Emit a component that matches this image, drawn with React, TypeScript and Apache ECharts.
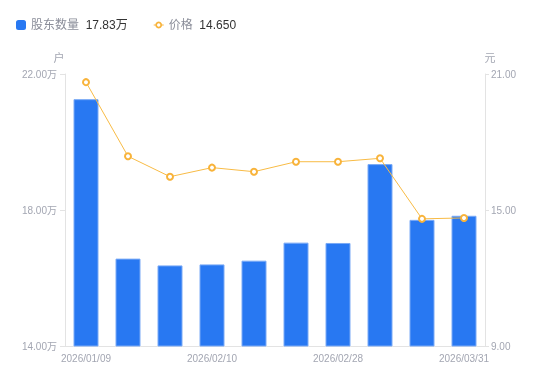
import React, { useEffect, useRef } from "react";
import * as echarts from "echarts";

const categories = [
  "2026/01/09",
  "2026/01/20",
  "2026/01/31",
  "2026/02/10",
  "2026/02/15",
  "2026/02/20",
  "2026/02/28",
  "2026/03/10",
  "2026/03/20",
  "2026/03/31",
];
const holders = [21.26, 16.57, 16.37, 16.4, 16.51, 17.04, 17.03, 19.35, 17.71, 17.83];
const prices = [20.64, 17.37, 16.47, 16.87, 16.69, 17.13, 17.13, 17.28, 14.61, 14.65];
const leftTicks = { min: 14, max: 22, interval: 4 };
const rightTicks = { min: 9, max: 21, interval: 6 };

const FONT = 'Arial, "Liberation Sans", "Noto Sans CJK SC", sans-serif';
const AXIS_COLOR = "#e3e3e3";
const LABEL_COLOR = "#a3a6b2";
const LINE_ICON =
  "path://M0,4.4 H2.4 V5.6 H0 Z M7.6,4.4 H10 V5.6 H7.6 Z M5,1.6 A3.4,3.4 0 1,1 4.99,1.6 Z M5,3.3 A1.7,1.7 0 1,0 5.01,3.3 Z";

export default function App() {
  const ref = useRef<HTMLDivElement>(null);
  useEffect(() => {
    if (!ref.current) return;
    const chart = echarts.init(ref.current, null, { renderer: "svg" });
    const lastHolder = holders[holders.length - 1];
    const lastPrice = prices[prices.length - 1];
    chart.setOption({
      animation: false,
      textStyle: { fontFamily: FONT },
      legend: {
        left: 16,
        top: 19,
        padding: 0,
        itemWidth: 10,
        itemHeight: 10,
        itemGap: 26,
        data: [
          { name: "股东数量", icon: "roundRect", itemStyle: { borderWidth: 0, color: "#2878f2" } },
          { name: "价格", icon: LINE_ICON, itemStyle: { borderWidth: 0, color: "#f8b33a" } },
        ],
        formatter: (name: string) =>
          name === "股东数量"
            ? `{a|${name}}  {b|${lastHolder.toFixed(2)}万}`
            : `{a|${name}}  {b|${lastPrice.toFixed(3)}}`,
        textStyle: {
          fontFamily: FONT,
          rich: {
            a: { color: "#8a8d99", fontSize: 12, fontFamily: FONT },
            b: { color: "#333333", fontSize: 12, fontFamily: FONT },
          },
        },
      },
      grid: { left: 65, right: 65, top: 74, bottom: 35 },
      xAxis: {
        type: "category",
        data: categories,
        axisLine: { lineStyle: { color: AXIS_COLOR } },
        axisTick: { show: false },
        axisLabel: { interval: 2, color: LABEL_COLOR, fontSize: 10, margin: 7, fontFamily: FONT },
      },
      yAxis: [
        {
          type: "value",
          name: "户",
          nameGap: 11,
          nameTextStyle: { color: LABEL_COLOR, fontSize: 11, padding: [0, 12, 0, 0], fontFamily: FONT },
          min: leftTicks.min,
          max: leftTicks.max,
          interval: leftTicks.interval,
          axisLine: { show: true, lineStyle: { color: AXIS_COLOR } },
          axisTick: { show: true, length: 5, lineStyle: { color: AXIS_COLOR } },
          splitLine: { show: false },
          axisLabel: {
            color: LABEL_COLOR,
            fontSize: 10,
            margin: 8,
            fontFamily: FONT,
            formatter: (v: number) => v.toFixed(2) + "万",
          },
        },
        {
          type: "value",
          name: "元",
          nameGap: 11,
          nameTextStyle: { color: LABEL_COLOR, fontSize: 11, padding: [0, 0, 0, 10], fontFamily: FONT },
          min: rightTicks.min,
          max: rightTicks.max,
          interval: rightTicks.interval,
          position: "right",
          axisLine: { show: true, lineStyle: { color: AXIS_COLOR } },
          axisTick: { show: true, length: 4, lineStyle: { color: AXIS_COLOR } },
          splitLine: { show: false },
          axisLabel: {
            color: LABEL_COLOR,
            fontSize: 10,
            margin: 6,
            fontFamily: FONT,
            formatter: (v: number) => v.toFixed(2),
          },
        },
      ],
      series: [
        {
          name: "股东数量",
          type: "bar",
          data: holders,
          barWidth: 25,
          yAxisIndex: 0,
          itemStyle: { color: "#2878f2", borderColor: "#7aaaf6", borderWidth: 1 },
        },
        {
          name: "价格",
          type: "line",
          data: prices,
          yAxisIndex: 1,
          symbol: "emptyCircle",
          symbolSize: 6,
          lineStyle: { color: "#f8bb45", width: 1 },
          itemStyle: { color: "#f8b33a", borderWidth: 1.5 },
        },
      ],
    });
    return () => chart.dispose();
  }, []);
  return (
    <div
      ref={ref}
      style={{ position: "fixed", left: 0, top: 0, width: 550, height: 381 }}
    />
  );
}
